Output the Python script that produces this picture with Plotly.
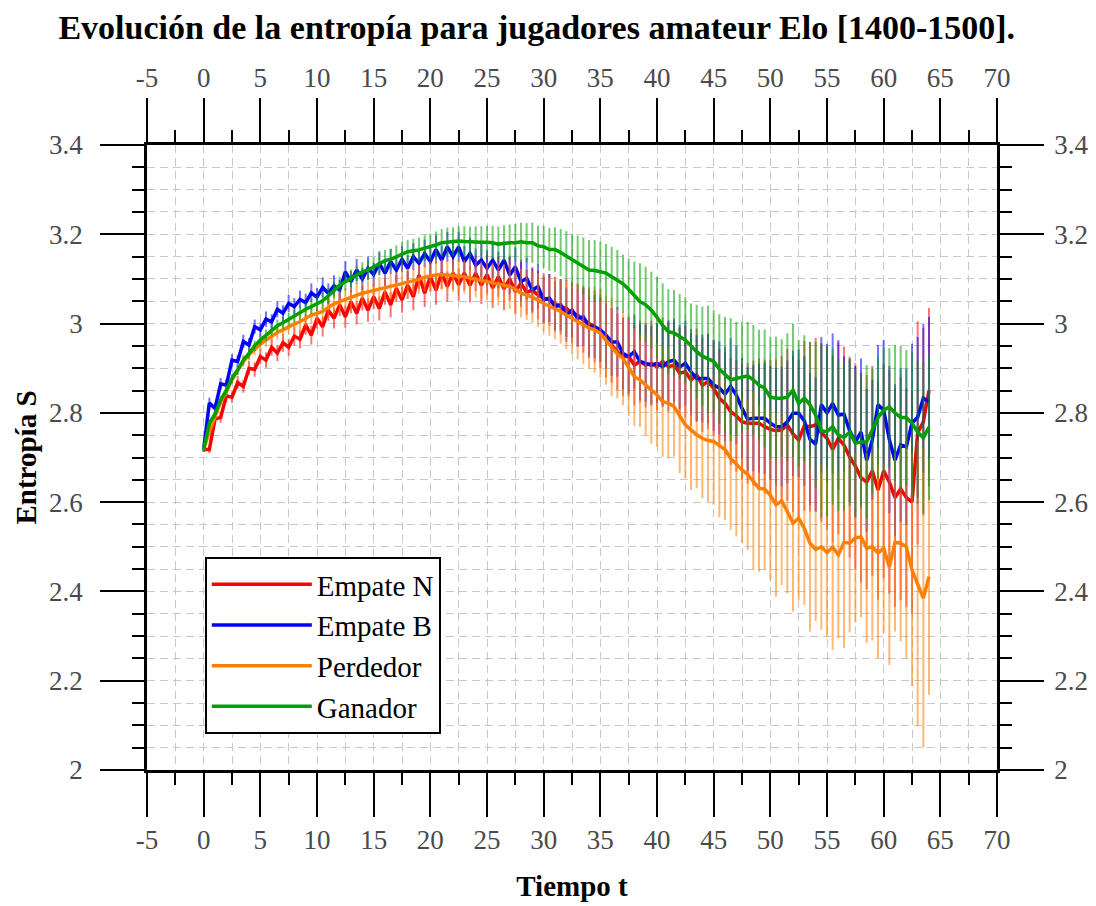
import plotly.graph_objects as go

# time steps (half moves)
t = [0, 0.5, 1, 1.5, 2, 2.5, 3, 3.5, 4, 4.5, 5, 5.5,
     6, 6.5, 7, 7.5, 8, 8.5, 9, 9.5, 10, 10.5, 11, 11.5,
     12, 12.5, 13, 13.5, 14, 14.5, 15, 15.5, 16, 16.5, 17, 17.5,
     18, 18.5, 19, 19.5, 20, 20.5, 21, 21.5, 22, 22.5, 23, 23.5,
     24, 24.5, 25, 25.5, 26, 26.5, 27, 27.5, 28, 28.5, 29, 29.5,
     30, 30.5, 31, 31.5, 32, 32.5, 33, 33.5, 34, 34.5, 35, 35.5,
     36, 36.5, 37, 37.5, 38, 38.5, 39, 39.5, 40, 40.5, 41, 41.5,
     42, 42.5, 43, 43.5, 44, 44.5, 45, 45.5, 46, 46.5, 47, 47.5,
     48, 48.5, 49, 49.5, 50, 50.5, 51, 51.5, 52, 52.5, 53, 53.5,
     54, 54.5, 55, 55.5, 56, 56.5, 57, 57.5, 58, 58.5, 59, 59.5,
     60, 60.5, 61, 61.5, 62, 62.5, 63, 63.5, 64]

x_ticks = [-5, 0, 5, 10, 15, 20, 25, 30, 35, 40, 45, 50, 55, 60, 65, 70]
x_labels = ["-5", "0", "5", "10", "15", "20", "25", "30", "35", "40",
            "45", "50", "55", "60", "65", "70"]

empate_n = [2.718, 2.718, 2.786, 2.790, 2.838, 2.835, 2.868, 2.859, 2.900, 2.897, 2.926, 2.918,
            2.947, 2.934, 2.957, 2.947, 2.972, 2.965, 2.997, 2.974, 3.012, 2.993, 3.030, 3.012,
            3.042, 3.015, 3.049, 3.023, 3.057, 3.030, 3.060, 3.034, 3.071, 3.042, 3.079, 3.053,
            3.086, 3.060, 3.109, 3.068, 3.105, 3.075, 3.113, 3.083, 3.113, 3.087, 3.113, 3.086,
            3.113, 3.086, 3.110, 3.080, 3.105, 3.078, 3.100, 3.072, 3.090, 3.070, 3.075, 3.064,
            3.057, 3.053, 3.045, 3.038, 3.034, 3.023, 3.019, 3.008, 3.000, 2.993, 2.982, 2.963,
            2.952, 2.937, 2.926, 2.926, 2.907, 2.915, 2.907, 2.911, 2.903, 2.915, 2.903, 2.907,
            2.889, 2.892, 2.874, 2.885, 2.862, 2.870, 2.855, 2.833, 2.821, 2.803, 2.793, 2.780,
            2.777, 2.777, 2.777, 2.769, 2.763, 2.760, 2.762, 2.773, 2.753, 2.739, 2.771, 2.769,
            2.773, 2.756, 2.743, 2.718, 2.743, 2.728, 2.701, 2.681, 2.655, 2.645, 2.670, 2.627,
            2.670, 2.645, 2.610, 2.630, 2.610, 2.600, 2.755, 2.780, 2.850]
err_n = [0.005, 0.008, 0.012, 0.012, 0.014, 0.013, 0.015, 0.014, 0.016, 0.016, 0.018, 0.017,
         0.019, 0.018, 0.020, 0.019, 0.021, 0.020, 0.022, 0.021, 0.023, 0.022, 0.024, 0.023,
         0.025, 0.024, 0.026, 0.025, 0.027, 0.026, 0.028, 0.027, 0.029, 0.028, 0.030, 0.029,
         0.031, 0.030, 0.032, 0.031, 0.033, 0.033, 0.035, 0.034, 0.036, 0.036, 0.038, 0.039,
         0.040, 0.042, 0.043, 0.045, 0.046, 0.048, 0.049, 0.051, 0.053, 0.050, 0.052, 0.054,
         0.056, 0.058, 0.060, 0.062, 0.064, 0.067, 0.070, 0.073, 0.077, 0.080, 0.082, 0.083,
         0.085, 0.086, 0.088, 0.089, 0.090, 0.092, 0.094, 0.095, 0.097, 0.098, 0.100, 0.100,
         0.102, 0.103, 0.104, 0.104, 0.105, 0.106, 0.106, 0.110, 0.115, 0.120, 0.125, 0.130,
         0.135, 0.140, 0.145, 0.150, 0.155, 0.160, 0.165, 0.170, 0.175, 0.180, 0.190, 0.190,
         0.195, 0.200, 0.205, 0.210, 0.215, 0.220, 0.225, 0.230, 0.235, 0.240, 0.235, 0.245,
         0.240, 0.250, 0.245, 0.250, 0.245, 0.250, 0.250, 0.210, 0.185]

empate_b = [2.718, 2.822, 2.810, 2.865, 2.862, 2.918, 2.915, 2.960, 2.952, 2.993, 2.986, 3.010,
            3.004, 3.032, 3.023, 3.045, 3.038, 3.054, 3.047, 3.069, 3.059, 3.081, 3.068, 3.085,
            3.075, 3.116, 3.094, 3.120, 3.100, 3.124, 3.110, 3.135, 3.113, 3.139, 3.120, 3.144,
            3.124, 3.150, 3.135, 3.157, 3.139, 3.166, 3.142, 3.172, 3.150, 3.172, 3.139, 3.157,
            3.131, 3.142, 3.124, 3.142, 3.120, 3.142, 3.109, 3.127, 3.094, 3.101, 3.075, 3.083,
            3.053, 3.057, 3.038, 3.042, 3.019, 3.030, 3.012, 3.015, 2.994, 2.993, 2.986, 2.974,
            2.959, 2.959, 2.933, 2.926, 2.937, 2.915, 2.911, 2.907, 2.911, 2.903, 2.915, 2.918,
            2.903, 2.911, 2.892, 2.877, 2.877, 2.877, 2.862, 2.856, 2.842, 2.859, 2.840, 2.810,
            2.786, 2.788, 2.788, 2.788, 2.777, 2.769, 2.769, 2.780, 2.799, 2.799, 2.782, 2.741,
            2.730, 2.818, 2.800, 2.821, 2.795, 2.797, 2.760, 2.735, 2.757, 2.694, 2.740, 2.818,
            2.806, 2.740, 2.694, 2.728, 2.724, 2.777, 2.790, 2.833, 2.825]
err_b = [0.005, 0.012, 0.012, 0.013, 0.013, 0.014, 0.014, 0.015, 0.015, 0.016, 0.016, 0.017,
         0.017, 0.018, 0.018, 0.019, 0.019, 0.020, 0.020, 0.021, 0.021, 0.022, 0.022, 0.023,
         0.023, 0.024, 0.024, 0.025, 0.025, 0.026, 0.026, 0.027, 0.027, 0.028, 0.028, 0.029,
         0.029, 0.030, 0.030, 0.031, 0.031, 0.032, 0.032, 0.033, 0.033, 0.034, 0.035, 0.036,
         0.037, 0.038, 0.039, 0.040, 0.041, 0.042, 0.043, 0.044, 0.045, 0.047, 0.048, 0.050,
         0.052, 0.054, 0.056, 0.058, 0.060, 0.062, 0.064, 0.066, 0.068, 0.070, 0.072, 0.074,
         0.076, 0.078, 0.080, 0.082, 0.083, 0.085, 0.086, 0.088, 0.089, 0.090, 0.092, 0.093,
         0.094, 0.095, 0.096, 0.097, 0.098, 0.100, 0.102, 0.104, 0.106, 0.108, 0.110, 0.113,
         0.116, 0.119, 0.122, 0.125, 0.128, 0.131, 0.134, 0.137, 0.140, 0.143, 0.145, 0.148,
         0.150, 0.152, 0.155, 0.157, 0.168, 0.130, 0.160, 0.170, 0.165, 0.160, 0.134, 0.134,
         0.157, 0.165, 0.170, 0.172, 0.175, 0.178, 0.180, 0.167, 0.190]

perdedor = [2.718, 2.758, 2.791, 2.825, 2.847, 2.874, 2.896, 2.915, 2.930, 2.942, 2.954, 2.963,
            2.972, 2.980, 2.986, 2.993, 2.999, 3.004, 3.012, 3.019, 3.023, 3.027, 3.036, 3.044,
            3.049, 3.054, 3.059, 3.064, 3.068, 3.071, 3.074, 3.077, 3.080, 3.083, 3.086, 3.090,
            3.093, 3.096, 3.099, 3.104, 3.107, 3.109, 3.110, 3.109, 3.107, 3.106, 3.105, 3.102,
            3.099, 3.097, 3.095, 3.091, 3.088, 3.085, 3.083, 3.077, 3.068, 3.064, 3.059, 3.053,
            3.045, 3.039, 3.034, 3.027, 3.019, 3.012, 3.004, 2.997, 2.990, 2.986, 2.978, 2.963,
            2.948, 2.932, 2.922, 2.903, 2.881, 2.874, 2.862, 2.851, 2.840, 2.825, 2.822, 2.814,
            2.792, 2.773, 2.762, 2.751, 2.743, 2.738, 2.736, 2.727, 2.718, 2.698, 2.685, 2.672,
            2.662, 2.647, 2.631, 2.629, 2.616, 2.594, 2.603, 2.579, 2.553, 2.564, 2.541, 2.508,
            2.494, 2.500, 2.487, 2.499, 2.482, 2.510, 2.508, 2.520, 2.522, 2.497, 2.500, 2.486,
            2.497, 2.455, 2.510, 2.508, 2.500, 2.448, 2.418, 2.385, 2.433]
err_p = [0.004, 0.006, 0.007, 0.008, 0.009, 0.010, 0.011, 0.012, 0.013, 0.013, 0.014, 0.015,
         0.015, 0.016, 0.017, 0.017, 0.018, 0.019, 0.019, 0.020, 0.021, 0.021, 0.022, 0.022,
         0.023, 0.024, 0.024, 0.025, 0.025, 0.026, 0.027, 0.027, 0.028, 0.028, 0.029, 0.030,
         0.030, 0.031, 0.032, 0.032, 0.033, 0.034, 0.034, 0.035, 0.036, 0.037, 0.038, 0.039,
         0.040, 0.042, 0.043, 0.045, 0.047, 0.048, 0.050, 0.052, 0.054, 0.056, 0.058, 0.060,
         0.063, 0.066, 0.069, 0.072, 0.076, 0.080, 0.084, 0.088, 0.092, 0.096, 0.100, 0.100,
         0.110, 0.100, 0.105, 0.110, 0.110, 0.105, 0.112, 0.120, 0.116, 0.123, 0.124, 0.112,
         0.127, 0.120, 0.135, 0.120, 0.134, 0.137, 0.142, 0.161, 0.158, 0.160, 0.162, 0.164,
         0.169, 0.199, 0.187, 0.181, 0.190, 0.206, 0.189, 0.183, 0.198, 0.183, 0.171, 0.198,
         0.160, 0.186, 0.188, 0.230, 0.187, 0.236, 0.200, 0.190, 0.180, 0.213, 0.210, 0.235,
         0.190, 0.220, 0.200, 0.220, 0.250, 0.260, 0.320, 0.335, 0.265]

ganador = [2.718, 2.777, 2.797, 2.829, 2.851, 2.877, 2.896, 2.918, 2.933, 2.950, 2.963, 2.974,
           2.986, 2.995, 3.002, 3.010, 3.017, 3.024, 3.032, 3.038, 3.045, 3.051, 3.062, 3.075,
           3.086, 3.094, 3.101, 3.109, 3.116, 3.120, 3.127, 3.135, 3.141, 3.144, 3.150, 3.157,
           3.161, 3.163, 3.165, 3.169, 3.172, 3.176, 3.181, 3.183, 3.184, 3.185, 3.184, 3.183,
           3.183, 3.182, 3.182, 3.181, 3.178, 3.180, 3.181, 3.181, 3.183, 3.181, 3.181, 3.174,
           3.172, 3.166, 3.166, 3.159, 3.151, 3.144, 3.136, 3.129, 3.120, 3.119, 3.116, 3.113,
           3.105, 3.098, 3.089, 3.077, 3.064, 3.049, 3.042, 3.030, 3.014, 2.996, 2.982, 2.979,
           2.971, 2.963, 2.950, 2.937, 2.927, 2.920, 2.915, 2.898, 2.885, 2.874, 2.877, 2.881,
           2.883, 2.874, 2.862, 2.855, 2.835, 2.833, 2.833, 2.835, 2.851, 2.821, 2.833, 2.818,
           2.795, 2.760, 2.758, 2.769, 2.750, 2.745, 2.757, 2.732, 2.735, 2.735, 2.760, 2.789,
           2.806, 2.813, 2.800, 2.790, 2.789, 2.777, 2.757, 2.744, 2.768]
err_g = [0.005, 0.008, 0.008, 0.009, 0.010, 0.010, 0.011, 0.011, 0.012, 0.012, 0.012, 0.013,
         0.013, 0.014, 0.014, 0.015, 0.015, 0.016, 0.016, 0.017, 0.017, 0.018, 0.018, 0.019,
         0.019, 0.020, 0.020, 0.021, 0.021, 0.022, 0.022, 0.023, 0.024, 0.024, 0.025, 0.026,
         0.026, 0.027, 0.028, 0.029, 0.030, 0.030, 0.031, 0.032, 0.032, 0.033, 0.034, 0.034,
         0.035, 0.036, 0.037, 0.038, 0.039, 0.040, 0.041, 0.042, 0.043, 0.044, 0.045, 0.045,
         0.047, 0.048, 0.050, 0.053, 0.056, 0.058, 0.061, 0.064, 0.067, 0.068, 0.067, 0.065,
         0.067, 0.067, 0.065, 0.069, 0.075, 0.086, 0.085, 0.086, 0.091, 0.094, 0.095, 0.096,
         0.095, 0.097, 0.095, 0.105, 0.111, 0.120, 0.115, 0.123, 0.130, 0.138, 0.127, 0.123,
         0.121, 0.123, 0.124, 0.132, 0.136, 0.138, 0.132, 0.143, 0.150, 0.142, 0.141, 0.141,
         0.164, 0.195, 0.190, 0.175, 0.170, 0.165, 0.165, 0.164, 0.150, 0.172, 0.140, 0.136,
         0.140, 0.132, 0.152, 0.160, 0.152, 0.160, 0.161, 0.170, 0.163]

series = [
    ("Empate N", empate_n, err_n, "#ff0000", "rgba(255,0,0,0.55)"),
    ("Empate B", empate_b, err_b, "#0000ff", "rgba(0,0,255,0.55)"),
    ("Perdedor", perdedor, err_p, "#ff7f00", "rgba(255,127,0,0.55)"),
    ("Ganador", ganador, err_g, "#00a000", "rgba(0,160,0,0.55)"),
]

FONT = "Liberation Serif"
GRID = "#c8c8c8"

fig = go.Figure()
for name, vals, errs, color, ecolor in series:
    fig.add_trace(go.Scatter(
        x=t, y=vals, name=name, mode="lines",
        line=dict(color=color, width=3.5),
        error_y=dict(type="data", array=errs, visible=True,
                     color=ecolor, thickness=2, width=0),
    ))

# invisible trace so the top / right axes are drawn
fig.add_trace(go.Scatter(x=[None], y=[None], xaxis="x2", yaxis="y2",
                         showlegend=False, hoverinfo="skip"))

tickfont = dict(family=FONT, size=27, color="#4a4a4a")
common = dict(
    showline=True, linewidth=2.5, linecolor="black",
    ticks="outside", ticklen=44, tickwidth=2, tickcolor="black",
    tickfont=tickfont, zeroline=False, automargin=False,
)
xminor = dict(dtick=2.5, tick0=0, ticks="outside", ticklen=12, tickwidth=2,
              tickcolor="black")
yminor = dict(dtick=0.05, tick0=2, ticks="outside", ticklen=12, tickwidth=2,
              tickcolor="black")
gridstyle = dict(showgrid=True, gridcolor=GRID, griddash="8px,5px", gridwidth=1)

# the page adds an 8px body margin, so the figure is 8px smaller than the window
fig.update_layout(
    width=1088, height=898,
    margin=dict(l=139, r=99, t=137, b=136),
    paper_bgcolor="white", plot_bgcolor="white",
    title=dict(text="<b>Evolución de la entropía para jugadores amateur Elo [1400-1500].</b>",
               x=0.486, xanchor="center", y=0.979, yanchor="middle",
               font=dict(family=FONT, size=34, color="black")),
    xaxis=dict(range=[-5, 70], tickmode="array", tickvals=x_ticks, ticktext=x_labels,
               **common, **gridstyle, minor=dict(**xminor, **gridstyle),
               title=dict(text="<b>Tiempo t</b>", standoff=22,
                          font=dict(family=FONT, size=29, color="black"))),
    yaxis=dict(range=[2, 3.4], tick0=2, dtick=0.2, **common, ticklabelstandoff=12,
               **gridstyle, minor=dict(**yminor, **gridstyle),
               title=dict(text="<b>Entropía S</b>", standoff=4,
                          font=dict(family=FONT, size=29, color="black"))),
    xaxis2=dict(range=[-5, 70], tickmode="array", tickvals=x_ticks, ticktext=x_labels,
                overlaying="x", side="top", anchor="y", showgrid=False, **common,
                minor=dict(**xminor, showgrid=False)),
    yaxis2=dict(range=[2, 3.4], tick0=2, dtick=0.2, overlaying="y", side="right",
                anchor="x", showgrid=False, **common, ticklabelstandoff=5,
                minor=dict(**yminor, showgrid=False)),
    legend=dict(x=0.068, y=0.341, xanchor="left", yanchor="top",
                bgcolor="white", bordercolor="black", borderwidth=2,
                font=dict(family=FONT, size=29, color="black"),
                itemwidth=100, tracegroupgap=0),
    showlegend=True,
)

fig.write_html("out.html")
